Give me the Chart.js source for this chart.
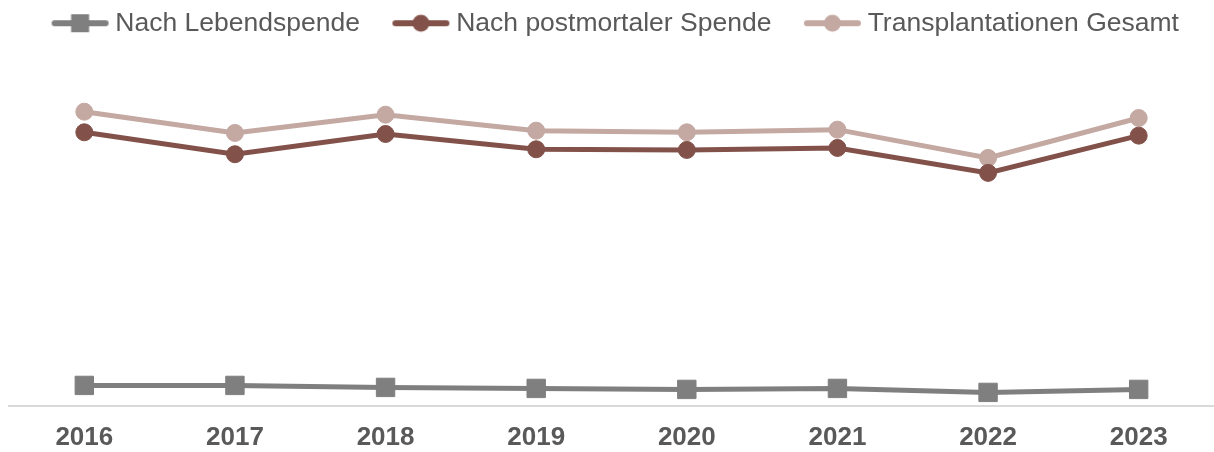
<!DOCTYPE html>
<html>
<head>
<meta charset="utf-8">
<script src="https://cdn.jsdelivr.net/npm/chart.js@4/dist/chart.umd.min.js"></script>
<style>
  html, body { margin: 0; padding: 0; background: #fff; }
  #wrap { width: 1214px; height: 452px; }
</style>
</head>
<body>
<div id="wrap"><canvas id="lineChart"></canvas></div>
<script>
let years = ['2016', '2017', '2018', '2019', '2020', '2021', '2022', '2023'];
let seriesNames = ['Nach Lebendspende', 'Nach postmortaler Spende', 'Transplantationen Gesamt'];
let lebendspende = [61, 61, 55, 52, 49, 52, 40, 49];
let postmortal = [822, 756, 817, 771, 769, 775, 700, 812];
let gesamt = [884, 820, 875, 827, 822, 830, 745, 865];
let colorHex = ['#7F7F7F', '#82524A', '#C4A8A2'];
let markers = ['rect', 'circle', 'circle'];

// legend icon: line with marker in the middle, drawn on a small canvas
function legendIcon(color, marker) {
  let c = document.createElement('canvas');
  c.width = 92;
  c.height = 22;
  let g = c.getContext('2d');
  g.strokeStyle = color;
  g.fillStyle = color;
  g.lineWidth = 6;
  g.lineCap = 'round';
  g.beginPath();
  g.moveTo(35, 11);
  g.lineTo(86, 11);
  g.stroke();
  if (marker === 'rect') {
    g.fillRect(60.5 - 9, 2, 18, 18);
  } else {
    g.beginPath();
    g.arc(60.5, 11, 8.5, 0, Math.PI * 2);
    g.fill();
  }
  return c;
}

let icons = colorHex.map((c, i) => legendIcon(c, markers[i]));
let values = [lebendspende, postmortal, gesamt];

// nudge the legend row a little to the left
const legendShift = {
  id: 'legendShift',
  afterLayout(chart) {
    chart.legend.left -= 3;
    chart.legend.right -= 3;
  }
};

let ctx = document.getElementById('lineChart').getContext('2d');
let myChart = new Chart(ctx, {
  type: 'line',
  data: {
    labels: years,
    datasets: seriesNames.map((name, i) => ({
      label: name,
      data: values[i],
      borderColor: colorHex[i],
      backgroundColor: colorHex[i],
      borderWidth: 5,
      pointStyle: markers[i],
      pointRadius: markers[i] === 'rect' ? 13 : 8.5,
      pointBorderWidth: 1,
      pointHoverRadius: markers[i] === 'rect' ? 13 : 8.5,
      tension: 0,
      fill: false
    }))
  },
  plugins: [legendShift],
  options: {
    responsive: true,
    maintainAspectRatio: false,
    animation: false,
    layout: { autoPadding: false, padding: 0 },
    plugins: {
      tooltip: { enabled: false },
      legend: {
        position: 'top',
        labels: {
          usePointStyle: true,
          pointStyleWidth: 73,
          padding: 10,
          color: '#595959',
          font: { family: 'Liberation Sans, Arial, sans-serif', size: 26.5 },
          generateLabels: (chart) => {
            return chart.data.datasets.map((ds, i) => ({
              text: ds.label,
              pointStyle: icons[i],
              fillStyle: ds.borderColor,
              strokeStyle: ds.borderColor,
              lineWidth: 0,
              hidden: false,
              datasetIndex: i,
              fontColor: '#595959'
            }));
          }
        }
      }
    },
    scales: {
      x: {
        offset: true,
        grid: { display: false, drawTicks: false },
        border: { display: true, color: '#D9D9D9', width: 2 },
        ticks: {
          color: '#595959',
          padding: 16.5,
          font: { family: 'Liberation Sans, Arial, sans-serif', size: 26, weight: 'bold' }
        },
        afterFit: (axis) => { axis.height = 46.3; }
      },
      y: {
        min: 0,
        max: 1080,
        grid: { display: false, drawTicks: false },
        border: { display: false },
        ticks: { display: false },
        afterFit: (axis) => { axis.width = 9; }
      }
    }
  }
});
</script>
</body>
</html>
